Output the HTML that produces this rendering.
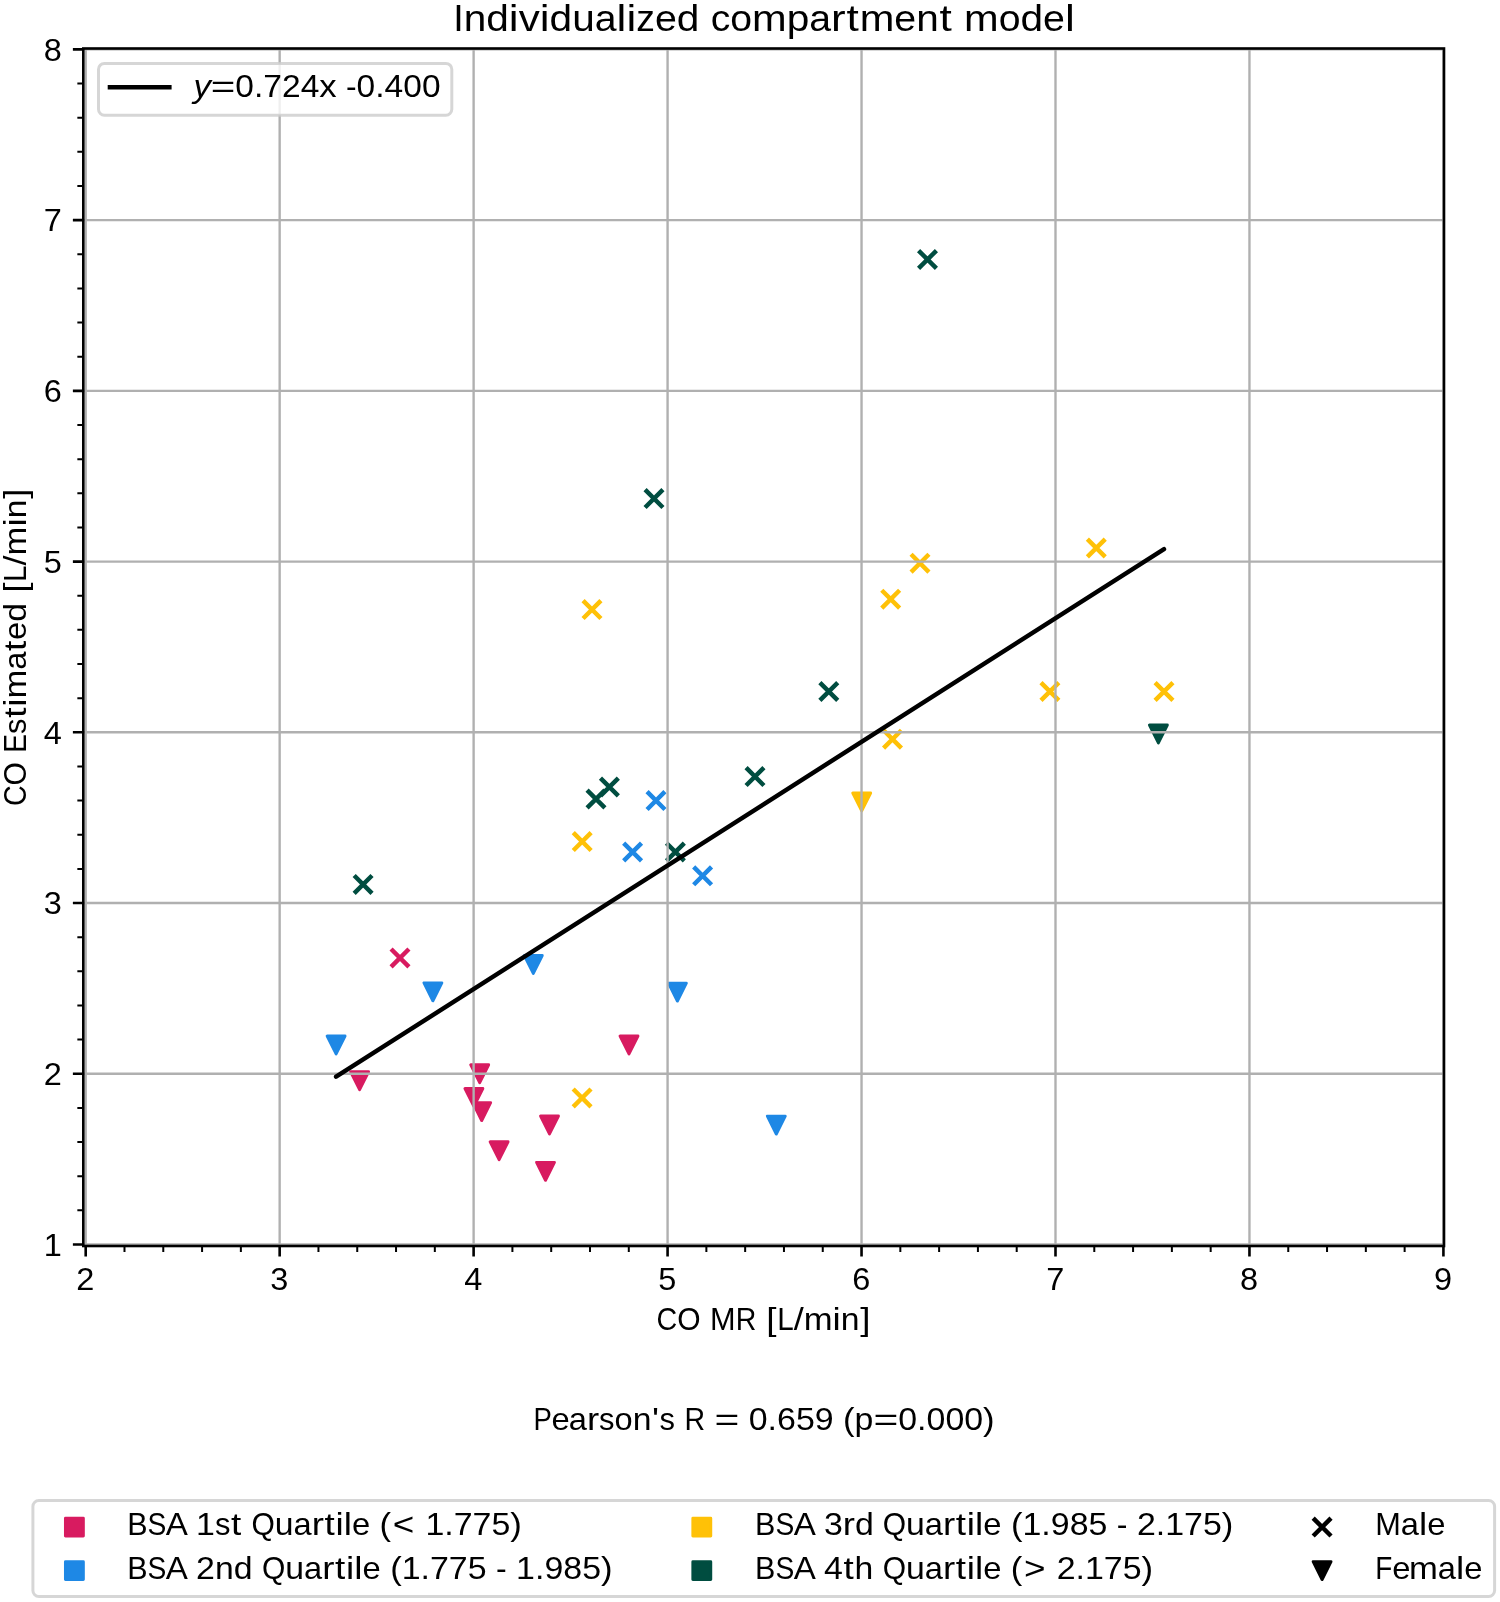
<!DOCTYPE html>
<html lang="en"><head><meta charset="utf-8"><title>Individualized compartment model</title>
<style>html,body{margin:0;padding:0;background:#fff}svg{display:block;will-change:transform}text{font-family:"Liberation Sans", sans-serif;fill:#000}</style>
</head><body>
<svg width="1500" height="1602" viewBox="0 0 1500 1602">
<defs>
<path id="mx" d="M-8.93,-8.93 L8.93,8.93 M-8.93,8.93 L8.93,-8.93" fill="none" stroke-width="4.46" stroke-linecap="butt"/>
<path id="mt" d="M-8.93,-8.93 L8.93,-8.93 L0,8.93 Z" stroke-width="2.98" stroke-linejoin="round"/>
<path id="ms" d="M-8.93,-8.93 H8.93 V8.93 H-8.93 Z" stroke-width="2.98" stroke-linejoin="round"/>
<clipPath id="ax"><rect x="83.3" y="48.5" width="1360.7" height="1197.5"/></clipPath>
</defs>
<rect width="1500" height="1602" fill="#fff"/>
<g clip-path="url(#ax)">
<g stroke="#D81B60" fill="#D81B60">
<use href="#mx" x="400" y="957.9"/>
<use href="#mt" x="359.6" y="1080.7"/>
<use href="#mt" x="479.7" y="1073.7"/>
<use href="#mt" x="473.9" y="1097.5"/>
<use href="#mt" x="481.7" y="1111.6"/>
<use href="#mt" x="499.1" y="1150.7"/>
<use href="#mt" x="549.5" y="1124.9"/>
<use href="#mt" x="545.5" y="1171.3"/>
<use href="#mt" x="629" y="1044.9"/>
</g>
<g stroke="#1E88E5" fill="#1E88E5">
<use href="#mx" x="632.6" y="852"/>
<use href="#mx" x="656" y="800.6"/>
<use href="#mx" x="702.6" y="875.8"/>
<use href="#mt" x="336.1" y="1044.9"/>
<use href="#mt" x="432.9" y="991.8"/>
<use href="#mt" x="533.3" y="964.4"/>
<use href="#mt" x="677.4" y="992.1"/>
<use href="#mt" x="776.3" y="1125.1"/>
</g>
<g stroke="#FFC107" fill="#FFC107">
<use href="#mx" x="582.2" y="841.6"/>
<use href="#mx" x="592" y="609.6"/>
<use href="#mx" x="582.1" y="1097.9"/>
<use href="#mx" x="890.7" y="599.2"/>
<use href="#mx" x="920" y="563.2"/>
<use href="#mx" x="892.5" y="739.2"/>
<use href="#mx" x="1049.9" y="691.5"/>
<use href="#mx" x="1096.3" y="548"/>
<use href="#mx" x="1164" y="691.5"/>
<use href="#mt" x="861.7" y="801.9"/>
</g>
<g stroke="#004D40" fill="#004D40">
<use href="#mx" x="363.1" y="884.4"/>
<use href="#mx" x="596" y="799"/>
<use href="#mx" x="609.4" y="787"/>
<use href="#mx" x="654" y="498.6"/>
<use href="#mx" x="675.4" y="852"/>
<use href="#mx" x="755" y="776.6"/>
<use href="#mx" x="828.8" y="691.5"/>
<use href="#mx" x="927.5" y="259.5"/>
<use href="#mt" x="1158.4" y="734"/>
</g>
<g stroke="#b0b0b0" stroke-width="2.38" fill="none">
<line x1="85.7" y1="48.5" x2="85.7" y2="1246"/>
<line x1="279.66" y1="48.5" x2="279.66" y2="1246"/>
<line x1="473.62" y1="48.5" x2="473.62" y2="1246"/>
<line x1="667.58" y1="48.5" x2="667.58" y2="1246"/>
<line x1="861.54" y1="48.5" x2="861.54" y2="1246"/>
<line x1="1055.5" y1="48.5" x2="1055.5" y2="1246"/>
<line x1="1249.46" y1="48.5" x2="1249.46" y2="1246"/>
<line x1="1443.42" y1="48.5" x2="1443.42" y2="1246"/>
<line x1="83.3" y1="1244.5" x2="1444" y2="1244.5"/>
<line x1="83.3" y1="1073.77" x2="1444" y2="1073.77"/>
<line x1="83.3" y1="903.04" x2="1444" y2="903.04"/>
<line x1="83.3" y1="732.31" x2="1444" y2="732.31"/>
<line x1="83.3" y1="561.58" x2="1444" y2="561.58"/>
<line x1="83.3" y1="390.85" x2="1444" y2="390.85"/>
<line x1="83.3" y1="220.12" x2="1444" y2="220.12"/>
<line x1="83.3" y1="49.39" x2="1444" y2="49.39"/>
</g>
<line x1="336.1" y1="1076.73" x2="1164" y2="549.12" stroke="#000" stroke-width="4.46" stroke-linecap="round"/>
</g>
<g stroke="#000" fill="none">
<path d="M85.7,1246 v10.42 M279.66,1246 v10.42 M473.62,1246 v10.42 M667.58,1246 v10.42 M861.54,1246 v10.42 M1055.5,1246 v10.42 M1249.46,1246 v10.42 M1443.42,1246 v10.42 M83.3,1244.5 h-10.42 M83.3,1073.77 h-10.42 M83.3,903.04 h-10.42 M83.3,732.31 h-10.42 M83.3,561.58 h-10.42 M83.3,390.85 h-10.42 M83.3,220.12 h-10.42 M83.3,49.39 h-10.42" stroke-width="2.6"/>
<path d="M124.49,1246 v5.95 M163.28,1246 v5.95 M202.08,1246 v5.95 M240.87,1246 v5.95 M318.45,1246 v5.95 M357.24,1246 v5.95 M396.04,1246 v5.95 M434.83,1246 v5.95 M512.41,1246 v5.95 M551.2,1246 v5.95 M590,1246 v5.95 M628.79,1246 v5.95 M706.37,1246 v5.95 M745.16,1246 v5.95 M783.96,1246 v5.95 M822.75,1246 v5.95 M900.33,1246 v5.95 M939.12,1246 v5.95 M977.92,1246 v5.95 M1016.71,1246 v5.95 M1094.29,1246 v5.95 M1133.08,1246 v5.95 M1171.88,1246 v5.95 M1210.67,1246 v5.95 M1288.25,1246 v5.95 M1327.04,1246 v5.95 M1365.84,1246 v5.95 M1404.63,1246 v5.95 M83.3,1210.35 h-5.95 M83.3,1176.21 h-5.95 M83.3,1142.06 h-5.95 M83.3,1107.92 h-5.95 M83.3,1039.62 h-5.95 M83.3,1005.48 h-5.95 M83.3,971.33 h-5.95 M83.3,937.19 h-5.95 M83.3,868.89 h-5.95 M83.3,834.75 h-5.95 M83.3,800.6 h-5.95 M83.3,766.46 h-5.95 M83.3,698.16 h-5.95 M83.3,664.02 h-5.95 M83.3,629.87 h-5.95 M83.3,595.73 h-5.95 M83.3,527.43 h-5.95 M83.3,493.29 h-5.95 M83.3,459.14 h-5.95 M83.3,425 h-5.95 M83.3,356.7 h-5.95 M83.3,322.56 h-5.95 M83.3,288.41 h-5.95 M83.3,254.27 h-5.95 M83.3,185.97 h-5.95 M83.3,151.83 h-5.95 M83.3,117.68 h-5.95 M83.3,83.54 h-5.95" stroke-width="2"/>
</g>
<rect x="83.3" y="48.5" width="1360.7" height="1197.5" fill="none" stroke="#000" stroke-width="2.6" stroke-linejoin="miter"/>
<text y="31" font-size="37.5"><tspan x="453.21" textLength="10.49" lengthAdjust="spacingAndGlyphs">I</tspan><tspan x="463.7" textLength="22.54" lengthAdjust="spacingAndGlyphs">n</tspan><tspan x="486.25" textLength="22.58" lengthAdjust="spacingAndGlyphs">d</tspan><tspan x="508.85" textLength="9.83" lengthAdjust="spacingAndGlyphs">i</tspan><tspan x="518.71" textLength="21.05" lengthAdjust="spacingAndGlyphs">v</tspan><tspan x="539.79" textLength="9.83" lengthAdjust="spacingAndGlyphs">i</tspan><tspan x="549.64" textLength="22.58" lengthAdjust="spacingAndGlyphs">d</tspan><tspan x="572.22" textLength="22.54" lengthAdjust="spacingAndGlyphs">u</tspan><tspan x="594.77" textLength="21.8" lengthAdjust="spacingAndGlyphs">a</tspan><tspan x="616.59" textLength="9.83" lengthAdjust="spacingAndGlyphs">l</tspan><tspan x="626.47" textLength="9.83" lengthAdjust="spacingAndGlyphs">i</tspan><tspan x="636.33" textLength="18.67" lengthAdjust="spacingAndGlyphs">z</tspan><tspan x="655" textLength="21.88" lengthAdjust="spacingAndGlyphs">e</tspan><tspan x="676.89" textLength="22.58" lengthAdjust="spacingAndGlyphs">d</tspan> <tspan x="710.77" textLength="19.56" lengthAdjust="spacingAndGlyphs">c</tspan><tspan x="730.33" textLength="21.76" lengthAdjust="spacingAndGlyphs">o</tspan><tspan x="752.09" textLength="34.65" lengthAdjust="spacingAndGlyphs">m</tspan><tspan x="786.74" textLength="22.58" lengthAdjust="spacingAndGlyphs">p</tspan><tspan x="809.32" textLength="21.8" lengthAdjust="spacingAndGlyphs">a</tspan><tspan x="831.12" textLength="14.62" lengthAdjust="spacingAndGlyphs">r</tspan><tspan x="846.57" textLength="12.29" lengthAdjust="spacingAndGlyphs">t</tspan><tspan x="859.69" textLength="34.65" lengthAdjust="spacingAndGlyphs">m</tspan><tspan x="894.34" textLength="21.88" lengthAdjust="spacingAndGlyphs">e</tspan><tspan x="916.23" textLength="22.54" lengthAdjust="spacingAndGlyphs">n</tspan><tspan x="939.6" textLength="12.29" lengthAdjust="spacingAndGlyphs">t</tspan> <tspan x="964.03" textLength="34.65" lengthAdjust="spacingAndGlyphs">m</tspan><tspan x="998.68" textLength="21.76" lengthAdjust="spacingAndGlyphs">o</tspan><tspan x="1020.44" textLength="22.58" lengthAdjust="spacingAndGlyphs">d</tspan><tspan x="1043.02" textLength="21.88" lengthAdjust="spacingAndGlyphs">e</tspan><tspan x="1064.93" textLength="9.83" lengthAdjust="spacingAndGlyphs">l</tspan></text>
<text x="76.37" y="1289.6" font-size="31.25" textLength="18.07" lengthAdjust="spacingAndGlyphs">2</text>
<text x="270.32" y="1289.6" font-size="31.25" textLength="18.07" lengthAdjust="spacingAndGlyphs">3</text>
<text x="464.28" y="1289.6" font-size="31.25" textLength="18.07" lengthAdjust="spacingAndGlyphs">4</text>
<text x="658.25" y="1289.6" font-size="31.25" textLength="18.07" lengthAdjust="spacingAndGlyphs">5</text>
<text x="852.21" y="1289.6" font-size="31.25" textLength="18.07" lengthAdjust="spacingAndGlyphs">6</text>
<text x="1046.16" y="1289.6" font-size="31.25" textLength="18.07" lengthAdjust="spacingAndGlyphs">7</text>
<text x="1240.12" y="1289.6" font-size="31.25" textLength="18.07" lengthAdjust="spacingAndGlyphs">8</text>
<text x="1434.09" y="1289.6" font-size="31.25" textLength="18.07" lengthAdjust="spacingAndGlyphs">9</text>
<text x="43.8" y="1255.8" font-size="31.25" textLength="18.07" lengthAdjust="spacingAndGlyphs">1</text>
<text x="43.8" y="1085.07" font-size="31.25" textLength="18.07" lengthAdjust="spacingAndGlyphs">2</text>
<text x="43.8" y="914.34" font-size="31.25" textLength="18.07" lengthAdjust="spacingAndGlyphs">3</text>
<text x="43.8" y="743.61" font-size="31.25" textLength="18.07" lengthAdjust="spacingAndGlyphs">4</text>
<text x="43.8" y="572.88" font-size="31.25" textLength="18.07" lengthAdjust="spacingAndGlyphs">5</text>
<text x="43.8" y="402.15" font-size="31.25" textLength="18.07" lengthAdjust="spacingAndGlyphs">6</text>
<text x="43.8" y="231.42" font-size="31.25" textLength="18.07" lengthAdjust="spacingAndGlyphs">7</text>
<text x="43.8" y="60.69" font-size="31.25" textLength="18.07" lengthAdjust="spacingAndGlyphs">8</text>
<text y="1329.8" font-size="31.25"><tspan x="656.61" textLength="20.7" lengthAdjust="spacingAndGlyphs">C</tspan><tspan x="677.31" textLength="23.33" lengthAdjust="spacingAndGlyphs">O</tspan> <tspan x="710.06" textLength="25.58" lengthAdjust="spacingAndGlyphs">M</tspan><tspan x="735.64" textLength="20.6" lengthAdjust="spacingAndGlyphs">R</tspan> <tspan x="766.32" textLength="10.25" lengthAdjust="spacingAndGlyphs">[</tspan><tspan x="777.22" textLength="16.51" lengthAdjust="spacingAndGlyphs">L</tspan><tspan x="793.74" textLength="9.99" lengthAdjust="spacingAndGlyphs">/</tspan><tspan x="803.73" textLength="28.88" lengthAdjust="spacingAndGlyphs">m</tspan><tspan x="832.62" textLength="8.19" lengthAdjust="spacingAndGlyphs">i</tspan><tspan x="840.84" textLength="18.79" lengthAdjust="spacingAndGlyphs">n</tspan><tspan x="860.28" textLength="10.25" lengthAdjust="spacingAndGlyphs">]</tspan></text>
<text y="0" transform="translate(25.7,806.08) rotate(-90)" font-size="31.25"><tspan x="0" textLength="20.7" lengthAdjust="spacingAndGlyphs">C</tspan><tspan x="20.7" textLength="23.33" lengthAdjust="spacingAndGlyphs">O</tspan> <tspan x="53.45" textLength="18.73" lengthAdjust="spacingAndGlyphs">E</tspan><tspan x="72.18" textLength="15.44" lengthAdjust="spacingAndGlyphs">s</tspan><tspan x="88.31" textLength="10.25" lengthAdjust="spacingAndGlyphs">t</tspan><tspan x="99.27" textLength="8.19" lengthAdjust="spacingAndGlyphs">i</tspan><tspan x="107.48" textLength="28.88" lengthAdjust="spacingAndGlyphs">m</tspan><tspan x="136.36" textLength="18.16" lengthAdjust="spacingAndGlyphs">a</tspan><tspan x="155.21" textLength="10.25" lengthAdjust="spacingAndGlyphs">t</tspan><tspan x="166.15" textLength="18.24" lengthAdjust="spacingAndGlyphs">e</tspan><tspan x="184.38" textLength="18.82" lengthAdjust="spacingAndGlyphs">d</tspan> <tspan x="213.28" textLength="10.25" lengthAdjust="spacingAndGlyphs">[</tspan><tspan x="224.19" textLength="16.51" lengthAdjust="spacingAndGlyphs">L</tspan><tspan x="240.7" textLength="9.99" lengthAdjust="spacingAndGlyphs">/</tspan><tspan x="250.69" textLength="28.88" lengthAdjust="spacingAndGlyphs">m</tspan><tspan x="279.59" textLength="8.19" lengthAdjust="spacingAndGlyphs">i</tspan><tspan x="287.8" textLength="18.79" lengthAdjust="spacingAndGlyphs">n</tspan><tspan x="307.25" textLength="10.25" lengthAdjust="spacingAndGlyphs">]</tspan></text>
<text y="1429.7" font-size="31.25"><tspan x="533.47" textLength="18.34" lengthAdjust="spacingAndGlyphs">P</tspan><tspan x="551.58" textLength="18.24" lengthAdjust="spacingAndGlyphs">e</tspan><tspan x="568.76" textLength="18.16" lengthAdjust="spacingAndGlyphs">a</tspan><tspan x="586.92" textLength="12.19" lengthAdjust="spacingAndGlyphs">r</tspan><tspan x="599.11" textLength="15.44" lengthAdjust="spacingAndGlyphs">s</tspan><tspan x="614.55" textLength="18.14" lengthAdjust="spacingAndGlyphs">o</tspan><tspan x="632.69" textLength="18.79" lengthAdjust="spacingAndGlyphs">n</tspan><tspan x="652.03" textLength="7.04" lengthAdjust="spacingAndGlyphs">'</tspan><tspan x="659.62" textLength="15.44" lengthAdjust="spacingAndGlyphs">s</tspan> <tspan x="684.49" textLength="20.6" lengthAdjust="spacingAndGlyphs">R</tspan> <tspan x="714.51" textLength="24.84" lengthAdjust="spacingAndGlyphs">=</tspan> <tspan x="748.77" textLength="18.86" lengthAdjust="spacingAndGlyphs">0</tspan><tspan x="767.63" textLength="9.42" lengthAdjust="spacingAndGlyphs">.</tspan><tspan x="777.05" textLength="18.86" lengthAdjust="spacingAndGlyphs">6</tspan><tspan x="795.91" textLength="18.86" lengthAdjust="spacingAndGlyphs">5</tspan><tspan x="814.77" textLength="18.86" lengthAdjust="spacingAndGlyphs">9</tspan> <tspan x="843.05" textLength="11.56" lengthAdjust="spacingAndGlyphs">(</tspan><tspan x="854.62" textLength="18.82" lengthAdjust="spacingAndGlyphs">p</tspan><tspan x="873.44" textLength="24.84" lengthAdjust="spacingAndGlyphs">=</tspan><tspan x="898.27" textLength="18.86" lengthAdjust="spacingAndGlyphs">0</tspan><tspan x="917.13" textLength="9.42" lengthAdjust="spacingAndGlyphs">.</tspan><tspan x="926.56" textLength="18.86" lengthAdjust="spacingAndGlyphs">0</tspan><tspan x="945.42" textLength="18.86" lengthAdjust="spacingAndGlyphs">0</tspan><tspan x="964.27" textLength="18.86" lengthAdjust="spacingAndGlyphs">0</tspan><tspan x="983.13" textLength="11.56" lengthAdjust="spacingAndGlyphs">)</tspan></text>
<rect x="98.5" y="63.4" width="353.3" height="51.8" rx="5.95" fill="#fff" fill-opacity="0.8" stroke="#ccc" stroke-opacity="0.8" stroke-width="2.98"/>
<line x1="109.93" y1="87.3" x2="169.37" y2="87.3" stroke="#000" stroke-width="4.46" stroke-linecap="square"/>
<text y="97.4" font-size="31.25"><tspan x="193.4" font-style="italic" textLength="17.36" lengthAdjust="spacingAndGlyphs">y</tspan><tspan x="210.76" textLength="24.58" lengthAdjust="spacingAndGlyphs">=</tspan><tspan x="235.34" textLength="18.67" lengthAdjust="spacingAndGlyphs">0</tspan><tspan x="254.01" textLength="9.33" lengthAdjust="spacingAndGlyphs">.</tspan><tspan x="263.34" textLength="18.67" lengthAdjust="spacingAndGlyphs">7</tspan><tspan x="282" textLength="18.67" lengthAdjust="spacingAndGlyphs">2</tspan><tspan x="300.67" textLength="18.67" lengthAdjust="spacingAndGlyphs">4</tspan><tspan x="319.34" textLength="17.36" lengthAdjust="spacingAndGlyphs">x</tspan> <tspan x="346.02" textLength="10.59" lengthAdjust="spacingAndGlyphs">-</tspan><tspan x="356.61" textLength="18.67" lengthAdjust="spacingAndGlyphs">0</tspan><tspan x="375.28" textLength="9.33" lengthAdjust="spacingAndGlyphs">.</tspan><tspan x="384.6" textLength="18.67" lengthAdjust="spacingAndGlyphs">4</tspan><tspan x="403.27" textLength="18.67" lengthAdjust="spacingAndGlyphs">0</tspan><tspan x="421.93" textLength="18.67" lengthAdjust="spacingAndGlyphs">0</tspan></text>
<rect x="32.9" y="1500.5" width="1461.7" height="96" rx="5.95" fill="#fff" fill-opacity="0.8" stroke="#ccc" stroke-opacity="0.8" stroke-width="2.98"/>
<use href="#ms" x="74.4" y="1527.1" fill="#D81B60" stroke="#D81B60"/>
<use href="#ms" x="74.4" y="1570.6" fill="#1E88E5" stroke="#1E88E5"/>
<use href="#ms" x="701.8" y="1527.1" fill="#FFC107" stroke="#FFC107"/>
<use href="#ms" x="701.8" y="1570.6" fill="#004D40" stroke="#004D40"/>
<use href="#mx" x="1322.1" y="1527.1" stroke="#000"/>
<use href="#mt" x="1322.1" y="1570.6" fill="#000" stroke="#000"/>
<text y="1534.8" font-size="31.25"><tspan x="127.18" textLength="20.34" lengthAdjust="spacingAndGlyphs">B</tspan><tspan x="147.52" textLength="18.82" lengthAdjust="spacingAndGlyphs">S</tspan><tspan x="165.81" textLength="20.28" lengthAdjust="spacingAndGlyphs">A</tspan> <tspan x="196.07" textLength="18.86" lengthAdjust="spacingAndGlyphs">1</tspan><tspan x="214.93" textLength="15.44" lengthAdjust="spacingAndGlyphs">s</tspan><tspan x="231.06" textLength="10.25" lengthAdjust="spacingAndGlyphs">t</tspan> <tspan x="251.41" textLength="23.33" lengthAdjust="spacingAndGlyphs">Q</tspan><tspan x="274.75" textLength="18.79" lengthAdjust="spacingAndGlyphs">u</tspan><tspan x="293.53" textLength="18.16" lengthAdjust="spacingAndGlyphs">a</tspan><tspan x="311.7" textLength="12.19" lengthAdjust="spacingAndGlyphs">r</tspan><tspan x="324.57" textLength="10.25" lengthAdjust="spacingAndGlyphs">t</tspan><tspan x="335.53" textLength="8.19" lengthAdjust="spacingAndGlyphs">i</tspan><tspan x="343.77" textLength="8.19" lengthAdjust="spacingAndGlyphs">l</tspan><tspan x="351.98" textLength="18.24" lengthAdjust="spacingAndGlyphs">e</tspan> <tspan x="379.64" textLength="11.56" lengthAdjust="spacingAndGlyphs">(</tspan><tspan x="392.86" textLength="21.53" lengthAdjust="spacingAndGlyphs">&lt;</tspan> <tspan x="425.46" textLength="18.86" lengthAdjust="spacingAndGlyphs">1</tspan><tspan x="444.32" textLength="9.42" lengthAdjust="spacingAndGlyphs">.</tspan><tspan x="453.75" textLength="18.86" lengthAdjust="spacingAndGlyphs">7</tspan><tspan x="472.61" textLength="18.86" lengthAdjust="spacingAndGlyphs">7</tspan><tspan x="491.47" textLength="18.86" lengthAdjust="spacingAndGlyphs">5</tspan><tspan x="510.33" textLength="11.56" lengthAdjust="spacingAndGlyphs">)</tspan></text>
<text y="1578.6" font-size="31.25"><tspan x="127.18" textLength="20.34" lengthAdjust="spacingAndGlyphs">B</tspan><tspan x="147.52" textLength="18.82" lengthAdjust="spacingAndGlyphs">S</tspan><tspan x="165.81" textLength="20.28" lengthAdjust="spacingAndGlyphs">A</tspan> <tspan x="196.07" textLength="18.86" lengthAdjust="spacingAndGlyphs">2</tspan><tspan x="214.93" textLength="18.79" lengthAdjust="spacingAndGlyphs">n</tspan><tspan x="233.71" textLength="18.82" lengthAdjust="spacingAndGlyphs">d</tspan> <tspan x="261.95" textLength="23.33" lengthAdjust="spacingAndGlyphs">Q</tspan><tspan x="285.28" textLength="18.79" lengthAdjust="spacingAndGlyphs">u</tspan><tspan x="304.07" textLength="18.16" lengthAdjust="spacingAndGlyphs">a</tspan><tspan x="322.24" textLength="12.19" lengthAdjust="spacingAndGlyphs">r</tspan><tspan x="335.11" textLength="10.25" lengthAdjust="spacingAndGlyphs">t</tspan><tspan x="346.07" textLength="8.19" lengthAdjust="spacingAndGlyphs">i</tspan><tspan x="354.3" textLength="8.19" lengthAdjust="spacingAndGlyphs">l</tspan><tspan x="362.52" textLength="18.24" lengthAdjust="spacingAndGlyphs">e</tspan> <tspan x="390.18" textLength="11.56" lengthAdjust="spacingAndGlyphs">(</tspan><tspan x="401.74" textLength="18.86" lengthAdjust="spacingAndGlyphs">1</tspan><tspan x="420.6" textLength="9.42" lengthAdjust="spacingAndGlyphs">.</tspan><tspan x="430.02" textLength="18.86" lengthAdjust="spacingAndGlyphs">7</tspan><tspan x="448.88" textLength="18.86" lengthAdjust="spacingAndGlyphs">7</tspan><tspan x="467.74" textLength="18.86" lengthAdjust="spacingAndGlyphs">5</tspan> <tspan x="496.03" textLength="10.7" lengthAdjust="spacingAndGlyphs">-</tspan> <tspan x="516.14" textLength="18.86" lengthAdjust="spacingAndGlyphs">1</tspan><tspan x="535" textLength="9.42" lengthAdjust="spacingAndGlyphs">.</tspan><tspan x="544.43" textLength="18.86" lengthAdjust="spacingAndGlyphs">9</tspan><tspan x="563.29" textLength="18.86" lengthAdjust="spacingAndGlyphs">8</tspan><tspan x="582.15" textLength="18.86" lengthAdjust="spacingAndGlyphs">5</tspan><tspan x="601.01" textLength="11.56" lengthAdjust="spacingAndGlyphs">)</tspan></text>
<text y="1534.8" font-size="31.25"><tspan x="755.08" textLength="20.34" lengthAdjust="spacingAndGlyphs">B</tspan><tspan x="775.42" textLength="18.82" lengthAdjust="spacingAndGlyphs">S</tspan><tspan x="793.71" textLength="20.28" lengthAdjust="spacingAndGlyphs">A</tspan> <tspan x="823.97" textLength="18.86" lengthAdjust="spacingAndGlyphs">3</tspan><tspan x="842.83" textLength="12.19" lengthAdjust="spacingAndGlyphs">r</tspan><tspan x="855.01" textLength="18.82" lengthAdjust="spacingAndGlyphs">d</tspan> <tspan x="882.73" textLength="23.33" lengthAdjust="spacingAndGlyphs">Q</tspan><tspan x="906.06" textLength="18.79" lengthAdjust="spacingAndGlyphs">u</tspan><tspan x="924.85" textLength="18.16" lengthAdjust="spacingAndGlyphs">a</tspan><tspan x="943.01" textLength="12.19" lengthAdjust="spacingAndGlyphs">r</tspan><tspan x="955.89" textLength="10.25" lengthAdjust="spacingAndGlyphs">t</tspan><tspan x="966.85" textLength="8.19" lengthAdjust="spacingAndGlyphs">i</tspan><tspan x="975.08" textLength="8.19" lengthAdjust="spacingAndGlyphs">l</tspan><tspan x="983.3" textLength="18.24" lengthAdjust="spacingAndGlyphs">e</tspan> <tspan x="1010.96" textLength="11.56" lengthAdjust="spacingAndGlyphs">(</tspan><tspan x="1022.52" textLength="18.86" lengthAdjust="spacingAndGlyphs">1</tspan><tspan x="1041.38" textLength="9.42" lengthAdjust="spacingAndGlyphs">.</tspan><tspan x="1050.8" textLength="18.86" lengthAdjust="spacingAndGlyphs">9</tspan><tspan x="1069.66" textLength="18.86" lengthAdjust="spacingAndGlyphs">8</tspan><tspan x="1088.52" textLength="18.86" lengthAdjust="spacingAndGlyphs">5</tspan> <tspan x="1116.8" textLength="10.7" lengthAdjust="spacingAndGlyphs">-</tspan> <tspan x="1136.92" textLength="18.86" lengthAdjust="spacingAndGlyphs">2</tspan><tspan x="1155.78" textLength="9.42" lengthAdjust="spacingAndGlyphs">.</tspan><tspan x="1165.21" textLength="18.86" lengthAdjust="spacingAndGlyphs">1</tspan><tspan x="1184.07" textLength="18.86" lengthAdjust="spacingAndGlyphs">7</tspan><tspan x="1202.92" textLength="18.86" lengthAdjust="spacingAndGlyphs">5</tspan><tspan x="1221.78" textLength="11.56" lengthAdjust="spacingAndGlyphs">)</tspan></text>
<text y="1578.6" font-size="31.25"><tspan x="755.08" textLength="20.34" lengthAdjust="spacingAndGlyphs">B</tspan><tspan x="775.42" textLength="18.82" lengthAdjust="spacingAndGlyphs">S</tspan><tspan x="793.71" textLength="20.28" lengthAdjust="spacingAndGlyphs">A</tspan> <tspan x="823.97" textLength="18.86" lengthAdjust="spacingAndGlyphs">4</tspan><tspan x="843.51" textLength="10.25" lengthAdjust="spacingAndGlyphs">t</tspan><tspan x="854.45" textLength="18.79" lengthAdjust="spacingAndGlyphs">h</tspan> <tspan x="882.66" textLength="23.33" lengthAdjust="spacingAndGlyphs">Q</tspan><tspan x="905.99" textLength="18.79" lengthAdjust="spacingAndGlyphs">u</tspan><tspan x="924.78" textLength="18.16" lengthAdjust="spacingAndGlyphs">a</tspan><tspan x="942.94" textLength="12.19" lengthAdjust="spacingAndGlyphs">r</tspan><tspan x="955.82" textLength="10.25" lengthAdjust="spacingAndGlyphs">t</tspan><tspan x="966.77" textLength="8.19" lengthAdjust="spacingAndGlyphs">i</tspan><tspan x="975.01" textLength="8.19" lengthAdjust="spacingAndGlyphs">l</tspan><tspan x="983.22" textLength="18.24" lengthAdjust="spacingAndGlyphs">e</tspan> <tspan x="1010.88" textLength="11.56" lengthAdjust="spacingAndGlyphs">(</tspan><tspan x="1024.1" textLength="21.53" lengthAdjust="spacingAndGlyphs">&gt;</tspan> <tspan x="1056.71" textLength="18.86" lengthAdjust="spacingAndGlyphs">2</tspan><tspan x="1075.57" textLength="9.42" lengthAdjust="spacingAndGlyphs">.</tspan><tspan x="1084.99" textLength="18.86" lengthAdjust="spacingAndGlyphs">1</tspan><tspan x="1103.85" textLength="18.86" lengthAdjust="spacingAndGlyphs">7</tspan><tspan x="1122.71" textLength="18.86" lengthAdjust="spacingAndGlyphs">5</tspan><tspan x="1141.57" textLength="11.56" lengthAdjust="spacingAndGlyphs">)</tspan></text>
<text y="1534.8" font-size="31.25"><tspan x="1375.28" textLength="25.58" lengthAdjust="spacingAndGlyphs">M</tspan><tspan x="1400.86" textLength="18.16" lengthAdjust="spacingAndGlyphs">a</tspan><tspan x="1419.05" textLength="8.19" lengthAdjust="spacingAndGlyphs">l</tspan><tspan x="1427.26" textLength="18.24" lengthAdjust="spacingAndGlyphs">e</tspan></text>
<text y="1578.6" font-size="31.25"><tspan x="1375.28" textLength="17.05" lengthAdjust="spacingAndGlyphs">F</tspan><tspan x="1392.33" textLength="18.24" lengthAdjust="spacingAndGlyphs">e</tspan><tspan x="1408.95" textLength="28.88" lengthAdjust="spacingAndGlyphs">m</tspan><tspan x="1437.83" textLength="18.16" lengthAdjust="spacingAndGlyphs">a</tspan><tspan x="1456.01" textLength="8.19" lengthAdjust="spacingAndGlyphs">l</tspan><tspan x="1464.23" textLength="18.24" lengthAdjust="spacingAndGlyphs">e</tspan></text>
</svg>
</body></html>
